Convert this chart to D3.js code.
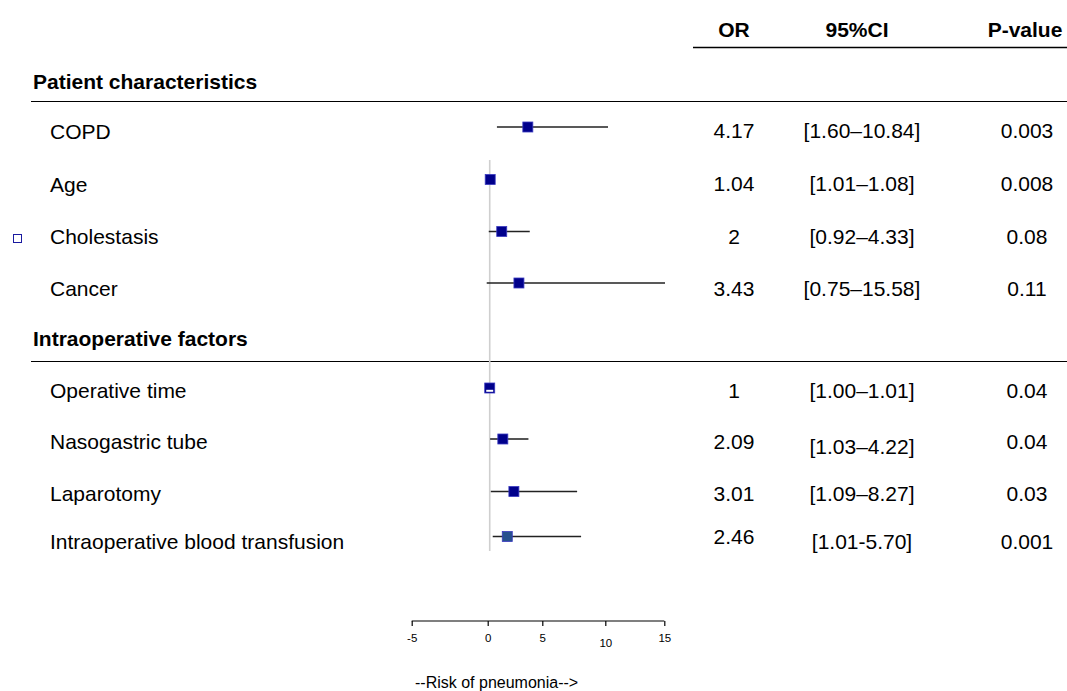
<!DOCTYPE html>
<html><head><meta charset="utf-8">
<script src="https://cdn.jsdelivr.net/npm/d3@7"></script>
<style>body{margin:0;background:#fff}svg{display:block}text{font-family:"Liberation Sans",Arial,sans-serif;fill:#000}</style>
</head><body><svg id="c" width="1067" height="691"></svg>
<script>
// ---- data ----
const groups = ["Patient characteristics", "Intraoperative factors"];
const labels = ["COPD", "Age", "Cholestasis", "Cancer", "Operative time", "Nasogastric tube", "Laparotomy", "Intraoperative blood transfusion"];
const groupOf = [0, 0, 0, 0, 1, 1, 1, 1];
const orValues = [4.17, 1.04, 2, 3.43, 1, 2.09, 3.01, 2.46];
const ciLow = [1.60, 1.01, 0.92, 0.75, 1.00, 1.03, 1.09, 1.25];
const ciHigh = [10.84, 1.08, 4.33, 15.58, 1.01, 4.22, 8.27, 8.6];
const orText = ["4.17", "1.04", "2", "3.43", "1", "2.09", "3.01", "2.46"];
const ciText = ["[1.60–10.84]", "[1.01–1.08]", "[0.92–4.33]", "[0.75–15.58]", "[1.00–1.01]", "[1.03–4.22]", "[1.09–8.27]", "[1.01-5.70]"];
const pText = ["0.003", "0.008", "0.08", "0.11", "0.04", "0.04", "0.03", "0.001"];
const headers = ["OR", "95%CI", "P-value"];
const tickValues = [-5, 0, 5, 10, 15];
const tickLabels = ["-5", "0", "5", "10", "15"];

const svg = d3.select("#c");
// layout
const rowY = [127, 179.5, 231.5, 283, 388, 439, 491.5, 536.5];
const labelY = [132, 185, 237, 289, 391, 442, 494, 542];
const groupY = [82, 339];
const ruleY = [101, 361];

// data scale (OR units -> px)
const x = d3.scaleLinear().domain([0, 15.58]).range([477.7, 665]);
// axis scale (uneven tick placement as in reference)
const xAxisScale = d3.scaleLinear().domain(tickValues).range([411.7, 487.7, 542.3, 605.3, 664.3]);

const FS = 21;
const OFF = 7;

// header
const colX = [734, 857, 1025];
headers.forEach((h, i) => {
  svg.append("text").attr("x", colX[i]).attr("y", 30 + OFF).attr("text-anchor", "middle")
    .attr("font-weight", "bold").attr("font-size", FS).text(h);
});
svg.append("line").attr("x1", 693).attr("x2", 1067).attr("y1", 47.5).attr("y2", 47.5).attr("stroke", "#000").attr("stroke-width", 1.3);

// groups
groups.forEach((g, i) => {
  svg.append("text").attr("x", 33).attr("y", groupY[i] + OFF).attr("font-weight", "bold").attr("font-size", FS).text(g);
  svg.append("line").attr("x1", 31).attr("x2", 1067).attr("y1", ruleY[i] + 0.5).attr("y2", ruleY[i] + 0.5).attr("stroke", "#000").attr("stroke-width", 1.2);
});

// reference line at OR = 1
svg.append("line").attr("x1", x(1)).attr("x2", x(1)).attr("y1", 160).attr("y2", 551)
  .attr("stroke", "#cfcfcf").attr("stroke-width", 1.6);

// rows
const orY = [131, 184, 237, 289, 391, 442, 494, 537];
const ciY = [131, 184, 237, 289, 391, 447, 494, 542];
const pY = [131, 184, 237, 289, 391, 442, 494, 542];
labels.forEach((lab, i) => {
  svg.append("text").attr("x", 50).attr("y", labelY[i] + OFF).attr("font-size", FS).text(lab);
  svg.append("text").attr("x", colX[0]).attr("y", orY[i] + OFF).attr("text-anchor", "middle").attr("font-size", FS).text(orText[i]);
  svg.append("text").attr("x", 862).attr("y", ciY[i] + OFF).attr("text-anchor", "middle").attr("font-size", FS).text(ciText[i]);
  svg.append("text").attr("x", 1027).attr("y", pY[i] + OFF).attr("text-anchor", "middle").attr("font-size", FS).text(pText[i]);
  // CI line
  svg.append("line").attr("x1", x(ciLow[i])).attr("x2", x(ciHigh[i])).attr("y1", rowY[i]).attr("y2", rowY[i])
    .attr("stroke", i === 5 ? "#555" : "#222").attr("stroke-width", i === 5 ? 1.8 : 1.3);
  // marker
  const s = 10;
  svg.append("rect").attr("x", x(orValues[i]) - s / 2).attr("y", rowY[i] - s / 2).attr("width", s).attr("height", s)
    .attr("fill", i === 7 ? "#27508e" : "#00008b").attr("stroke", "#3a3ac0").attr("stroke-width", 0.8);
  if (i === 4) {
    svg.append("rect").attr("x", x(orValues[i]) - 3.5).attr("y", rowY[i] + 1.8).attr("width", 7).attr("height", 2).attr("fill", "#fff");
  }
});

// small hollow legend square
svg.append("rect").attr("x", 13.5).attr("y", 234.5).attr("width", 8).attr("height", 8)
  .attr("fill", "#fff").attr("stroke", "#1a1aa0").attr("stroke-width", 1);

// axis
const ax = svg.append("g").attr("transform", "translate(0,621)")
  .call(d3.axisBottom(xAxisScale).tickValues(tickValues).tickFormat((d, i) => tickLabels[i])
    .tickSize(5).tickSizeOuter(0).tickPadding(9));
ax.select(".domain").attr("stroke", "#000").attr("stroke-width", 1.2).attr("d", `M${xAxisScale(-5)},0H${xAxisScale(15)}`);
ax.selectAll(".tick line").attr("stroke", "#000").attr("stroke-width", 1.2);
ax.selectAll(".tick text").attr("font-family", "Liberation Sans, Arial, sans-serif").attr("font-size", 11.5).attr("fill", "#000")
  .attr("dy", d => d === 10 ? "1.0em" : "0.6em");

svg.append("text").attr("x", 415).attr("y", 688).attr("text-anchor", "start").attr("font-size", 16).text("--Risk of pneumonia-->");
</script></body></html>
